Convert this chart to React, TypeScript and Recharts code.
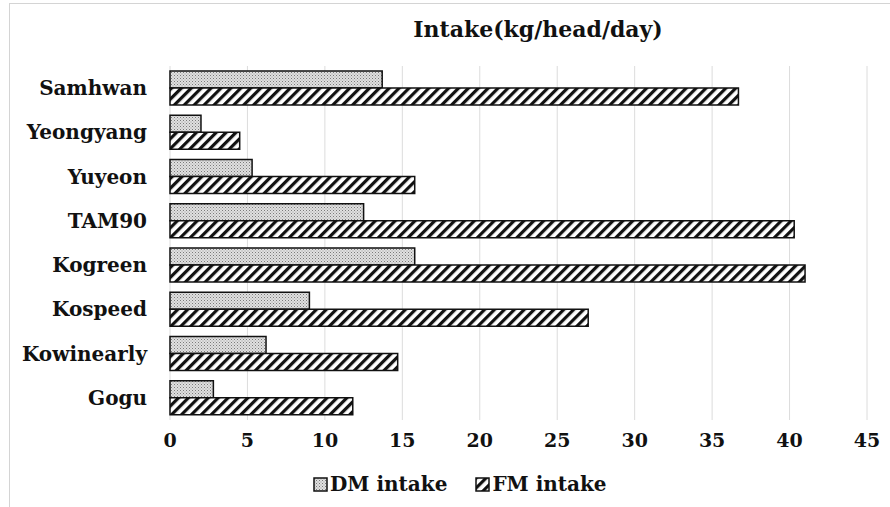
import React from "react";
import { BarChart, Bar, XAxis, YAxis, CartesianGrid, Legend } from "recharts";

// ─── Data ─────────────────────────────────────────────
const categories = [
  "Samhwan",
  "Yeongyang",
  "Yuyeon",
  "TAM90",
  "Kogreen",
  "Kospeed",
  "Kowinearly",
  "Gogu",
];
const dmIntake = [13.7, 2.0, 5.3, 12.5, 15.8, 9.0, 6.2, 2.8];
const fmIntake = [36.7, 4.5, 15.8, 40.3, 41.0, 27.0, 14.7, 11.8];
const xTicks = [0, 5, 10, 15, 20, 25, 30, 35, 40, 45];

const data = categories.map((name, i) => ({
  name,
  dm: dmIntake[i],
  fm: fmIntake[i],
}));

const FONT = "'DejaVu Serif', serif";

const LegendContent = () => (
  <div
    style={{
      display: "flex",
      alignItems: "center",
      fontFamily: FONT,
      fontWeight: 700,
      fontSize: 20,
      color: "#111",
    }}
  >
    <svg width={15} height={15} style={{ marginRight: 2 }}>
      <rect x={1} y={1} width={13} height={13} fill="url(#dmDots)" stroke="#111" strokeWidth={1.5} />
    </svg>
    <span style={{ marginRight: 28 }}>DM intake</span>
    <svg width={15} height={15} style={{ marginRight: 2 }}>
      <rect x={1} y={1} width={13} height={13} fill="url(#fmHatch)" stroke="#111" strokeWidth={1.5} />
    </svg>
    <span>FM intake</span>
  </div>
);

export default function App() {
  return (
    <div
      style={{
        position: "absolute",
        left: 0,
        top: 0,
        width: 890,
        height: 507,
        background: "#fff",
        overflow: "hidden",
      }}
    >
      {/* light frame at top/left */}
      <div
        style={{
          position: "absolute",
          left: 9,
          top: 3,
          width: 900,
          height: 520,
          borderLeft: "1px solid #d4d4d4",
          borderTop: "1px solid #d4d4d4",
        }}
      />
      <div
        style={{
          position: "absolute",
          left: 0,
          width: 1076,
          top: 16,
          textAlign: "center",
          fontFamily: FONT,
          fontWeight: 700,
          fontSize: 22,
          color: "#111",
        }}
      >
        Intake(kg/head/day)
      </div>
      <BarChart
        width={890}
        height={507}
        data={data}
        layout="vertical"
        margin={{ top: 66, right: 23, bottom: 57, left: 0 }}
        barGap={0}
        barSize={17}
      >
        <defs>
          <pattern id="dmDots" patternUnits="userSpaceOnUse" width={3} height={3}>
            <rect width={3} height={3} fill="#e0e0e0" />
            <rect x={0} y={0} width={1} height={1} fill="#7a7a7a" />
            <rect x={1.5} y={1.5} width={1} height={1} fill="#9a9a9a" />
          </pattern>
          <pattern
            id="fmHatch"
            patternUnits="userSpaceOnUse"
            width={7}
            height={7}
            patternTransform="rotate(45)"
          >
            <rect width={7} height={7} fill="#fff" />
            <rect x={0} y={0} width={3.2} height={7} fill="#111" />
          </pattern>
        </defs>
        <CartesianGrid horizontal={false} stroke="#dcdcdc" />
        <XAxis
          type="number"
          domain={[0, 45]}
          ticks={xTicks}
          axisLine={false}
          tickLine={false}
          tickMargin={8}
          height={30}
          tick={{ fontSize: 19, fontFamily: FONT, fontWeight: 700, fill: "#111" }}
        />
        <YAxis
          type="category"
          dataKey="name"
          width={170}
          axisLine={false}
          tickLine={false}
          tickMargin={17}
          tick={{ fontSize: 20, fontFamily: FONT, fontWeight: 700, fill: "#111" }}
        />
        <Bar
          dataKey="dm"
          name="DM intake"
          fill="url(#dmDots)"
          stroke="#111"
          strokeWidth={1.5}
          isAnimationActive={false}
        />
        <Bar
          dataKey="fm"
          name="FM intake"
          fill="url(#fmHatch)"
          stroke="#111"
          strokeWidth={1.5}
          isAnimationActive={false}
        />
        <Legend
          verticalAlign="middle"
          align="center"
          content={<LegendContent />}
          wrapperStyle={{ top: 472, left: 313, width: 340 }}
        />
      </BarChart>
    </div>
  );
}
